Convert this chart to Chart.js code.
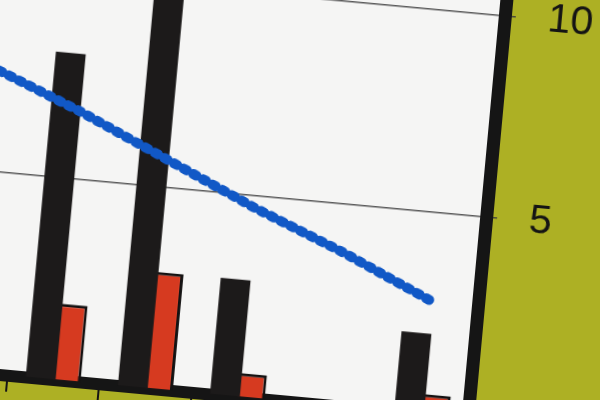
<!DOCTYPE html>
<html>
<head>
<meta charset="utf-8">
<script src="https://cdn.jsdelivr.net/npm/chart.js@4.4.1/dist/chart.umd.min.js"></script>
<style>
    html, body {
        margin: 0;
        padding: 0;
        width: 600px;
        height: 400px;
        overflow: hidden;
        background: #adb024;
    }
    /* the photo is slightly turned, so the whole chart is */
    #wrap {
        position: absolute;
        left: -100px;
        top: -100px;
        width: 800px;
        height: 600px;
        transform: rotate(5.3deg);
        transform-origin: 50% 50%;
    }
</style>
</head>
<body>
<div id="wrap"><canvas id="chart" width="800" height="600"></canvas></div>
<script>
const categories = ['1', '2', '3', '4', '5', '6'];
const blackValues = [null, 8.1, 10.5, 2.9, null, 2.0];
const redValues = [null, 1.9, 2.9, 0.6, null, 0.5];
const lineValues = [7.6, 6.7, 5.7, 4.7, 3.8, 2.8];
const yTicks = [0, 5, 10];

const backgroundPlugin = {
    id: 'background',
    beforeDraw(chart) {
        const ctx = chart.ctx;
        const area = chart.chartArea;
        ctx.save();
        ctx.fillStyle = '#adb024';
        ctx.fillRect(0, 0, chart.width, chart.height);
        ctx.fillStyle = '#f5f5f4';
        ctx.fillRect(area.left, area.top, area.right - area.left, area.bottom - area.top);
        ctx.restore();
    }
};

function createBarLineChart(chartId) {
    const ctx = document.getElementById(chartId);

    ctx.chartInstance = new Chart(ctx, {
        type: 'bar',
        data: {
            labels: categories,
            datasets: [{
                type: 'line',
                data: lineValues,
                order: -1,
                borderColor: '#1158c6',
                borderWidth: 10,
                borderDash: [3.5, 7.5],
                borderCapStyle: 'round',
                borderJoinStyle: 'round',
                pointRadius: 0,
                tension: 0
            }, {
                data: blackValues,
                backgroundColor: '#1c1a1a',
                borderWidth: 0,
                barPercentage: 1.2,
                categoryPercentage: 0.54
            }, {
                data: redValues,
                backgroundColor: '#d63a20',
                borderColor: '#141212',
                borderWidth: 3,
                barPercentage: 1.22,
                categoryPercentage: 0.54
            }]
        },
        options: {
            responsive: false,
            animation: false,
            devicePixelRatio: 1,
            layout: {
                padding: { top: 17, left: 32, right: 0, bottom: 0 }
            },
            scales: {
                x: {
                    offset: true,
                    grid: {
                        offset: true,
                        drawOnChartArea: false,
                        tickLength: 16,
                        tickColor: '#151515',
                        lineWidth: 2
                    },
                    border: {
                        color: '#151515',
                        width: 12
                    },
                    ticks: {
                        display: false
                    },
                    afterFit(scale) {
                        scale.height = 98;
                        scale.paddingLeft = 0;
                        scale.paddingRight = 0;
                    }
                },
                y: {
                    position: 'right',
                    min: 0,
                    max: 12,
                    afterBuildTicks(scale) {
                        scale.ticks = yTicks.map(v => ({ value: v }));
                    },
                    grid: {
                        color: '#5a5a5a',
                        lineWidth: 1.5,
                        tickLength: 11,
                        tickColor: '#4a4a3a'
                    },
                    border: {
                        color: '#151515',
                        width: 13
                    },
                    ticks: {
                        padding: 32,
                        color: '#141414',
                        font: {
                            family: 'Liberation Sans',
                            size: 41
                        }
                    },
                    afterFit(scale) {
                        scale.width = 213;
                        scale.paddingTop = 0;
                        scale.paddingBottom = 0;
                    }
                }
            },
            plugins: {
                legend: {
                    display: false
                },
                tooltip: {
                    enabled: false
                }
            }
        },
        plugins: [backgroundPlugin]
    });
}

createBarLineChart('chart');
</script>
</body>
</html>
